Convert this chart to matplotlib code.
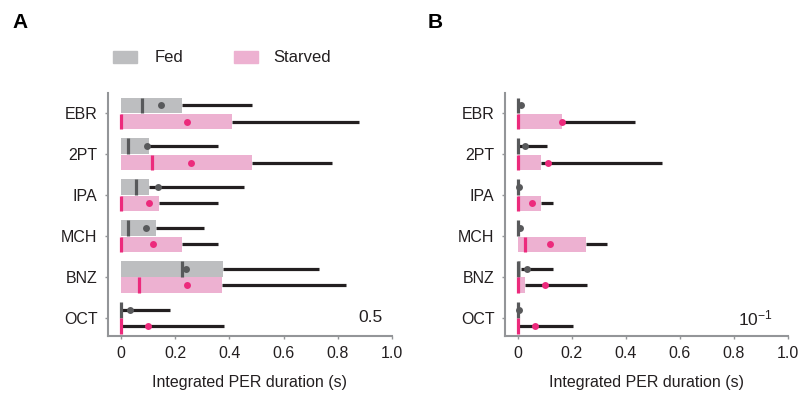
import matplotlib
matplotlib.use("Agg")
import matplotlib.pyplot as plt
from matplotlib.patches import Rectangle

plt.rcParams['font.family'] = ['Liberation Sans', 'DejaVu Sans']
plt.rcParams['mathtext.fontset'] = 'custom'
plt.rcParams['mathtext.rm'] = 'Liberation Sans'
plt.rcParams['mathtext.default'] = 'regular'

categories = ['EBR', '2PT', 'IPA', 'MCH', 'BNZ', 'OCT']
x_ticks = [0, 0.2, 0.4, 0.6, 0.8, 1.0]
x_tick_labels = ['0', '0.2', '0.4', '0.6', '0.8', '1.0']

# Panel A
fed_q3_a = [0.225, 0.104, 0.104, 0.128, 0.378, 0.0]
fed_median_a = [0.077, 0.027, 0.054, 0.027, 0.225, 0.0]
fed_mean_a = [0.147, 0.095, 0.135, 0.094, 0.240, 0.032]
fed_whisker_a = [0.483, 0.357, 0.455, 0.307, 0.730, 0.180]
starved_q3_a = [0.410, 0.483, 0.140, 0.227, 0.373, 0.0]
starved_median_a = [0.0, 0.113, 0.0, 0.0, 0.067, 0.0]
starved_mean_a = [0.245, 0.260, 0.104, 0.118, 0.242, 0.100]
starved_whisker_a = [0.880, 0.780, 0.357, 0.357, 0.832, 0.380]

# Panel B
fed_q3_b = [0.0, 0.0, 0.0, 0.0, 0.010, 0.0]
fed_median_b = [0.0, 0.0, 0.0, 0.0, 0.0, 0.0]
fed_mean_b = [0.010, 0.026, 0.003, 0.007, 0.032, 0.003]
fed_whisker_b = [0.0, 0.108, 0.0, 0.0, 0.131, 0.0]
starved_q3_b = [0.165, 0.084, 0.084, 0.252, 0.028, 0.0]
starved_median_b = [0.0, 0.0, 0.0, 0.028, 0.0, 0.0]
starved_mean_b = [0.165, 0.110, 0.054, 0.118, 0.100, 0.065]
starved_whisker_b = [0.433, 0.532, 0.131, 0.330, 0.257, 0.205]

FED_BAR = '#BDBEC0'
FED_MARK = '#58595B'
STV_BAR = '#EDB1D1'
STV_MARK = '#EC2A7C'
WHISK = '#231F20'
SPINE = '#939598'

OFF = 0.2
H = 0.38


def draw_group(ax, ys, q3, med, mean, whisk, bar_c, mark_c):
    ax.barh(ys, q3, height=H, left=0, color=bar_c, zorder=1)
    for y, a, b in zip(ys, q3, whisk):
        if b > a:
            ax.hlines(y, a, b, color=WHISK, lw=2.3, zorder=2)
    ax.vlines(med, [y - H / 2 for y in ys], [y + H / 2 for y in ys],
              color=mark_c, lw=2.3, zorder=3)
    ax.plot(mean, ys, 'o', color=mark_c, ms=5, zorder=4, mec='none')


def panel(ax, fq3, fmed, fmean, fwh, sq3, smed, smean, swh):
    idx = list(range(len(categories)))
    fed_y = [i - OFF for i in idx]
    stv_y = [i + OFF for i in idx]
    draw_group(ax, fed_y, fq3, fmed, fmean, fwh, FED_BAR, FED_MARK)
    draw_group(ax, stv_y, sq3, smed, smean, swh, STV_BAR, STV_MARK)
    ax.set_ylim(5.44, -0.5)
    ax.set_xlim(-0.048, 1.0)
    ax.set_yticks(idx)
    ax.set_yticklabels(categories, fontsize=11.5)
    ax.set_xticks(x_ticks)
    ax.set_xticklabels(x_tick_labels, fontsize=11.5)
    ax.set_xlabel('Integrated PER duration (s)', fontsize=11.5,
                  color='#231F20', labelpad=10)
    for s in ['top', 'right']:
        ax.spines[s].set_visible(False)
    for s in ['left', 'bottom']:
        ax.spines[s].set_color(SPINE)
        ax.spines[s].set_linewidth(1.5)
    ax.tick_params(axis='x', length=2.5, width=1, color=SPINE,
                   labelcolor='#231F20', pad=5)
    ax.tick_params(axis='y', length=2.5, width=1, color=SPINE,
                   labelcolor='#231F20', pad=5)


fig = plt.figure(figsize=(8.04, 3.97), dpi=100)
ax_a = fig.add_axes([0.1343, 0.1537, 0.3532, 0.612])
ax_b = fig.add_axes([0.628, 0.1537, 0.352, 0.612])

panel(ax_a, fed_q3_a, fed_median_a, fed_mean_a, fed_whisker_a,
      starved_q3_a, starved_median_a, starved_mean_a, starved_whisker_a)
panel(ax_b, fed_q3_b, fed_median_b, fed_mean_b, fed_whisker_b,
      starved_q3_b, starved_median_b, starved_mean_b, starved_whisker_b)

ax_a.text(0.92, 5.0, '0.5', fontsize=12.5, ha='center', va='center', color='#231F20')
ax_b.text(0.88, 5.0, r'10$^{-1}$', fontsize=12.5, ha='center', va='center', color='#231F20')

fig.text(12 / 804, 1 - 22 / 397, 'A', fontsize=15, fontweight='bold', va='center')
fig.text(428 / 804, 1 - 22 / 397, 'B', fontsize=15, fontweight='bold', va='center')

# legend
fig.add_artist(Rectangle((113 / 804, 1 - 63 / 397), 24 / 804, 12 / 397,
                         transform=fig.transFigure, color=FED_BAR))
fig.text(155 / 804, 1 - 57 / 397, 'Fed', fontsize=12, va='center', color='#231F20')
fig.add_artist(Rectangle((234 / 804, 1 - 63 / 397), 24 / 804, 12 / 397,
                         transform=fig.transFigure, color=STV_BAR))
fig.text(273 / 804, 1 - 57 / 397, 'Starved', fontsize=12, va='center', color='#231F20')

fig.savefig('out.png', dpi=100)
